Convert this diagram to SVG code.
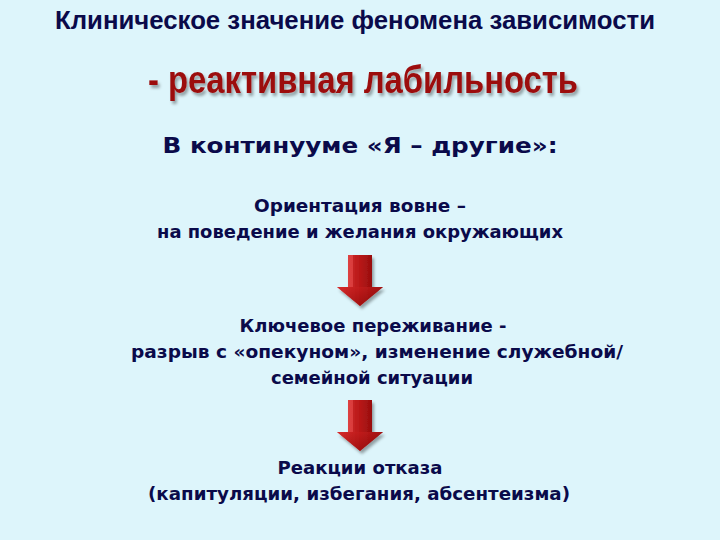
<svg xmlns="http://www.w3.org/2000/svg" width="720" height="540" viewBox="0 0 720 540">
<defs>
<style>
.t{font-family:"DejaVu Sans",Verdana,sans-serif;font-weight:bold;font-size:17px;fill:#0a0a4a;text-anchor:middle}
.hd{font-size:22px}
.h{font-family:"Liberation Sans",Arial,sans-serif;font-weight:bold;fill:#0a0a4a;text-anchor:middle}
.s{font-family:"Liberation Sans",Arial,sans-serif;font-weight:bold;fill:#9c1010;text-anchor:middle}
</style>
<linearGradient id="ag" x1="0" y1="0" x2="1" y2="0">
<stop offset="0" stop-color="#e23a3a"/>
<stop offset="0.5" stop-color="#b81818"/>
<stop offset="1" stop-color="#7a0505"/>
</linearGradient>
<linearGradient id="sg" x1="0" y1="0" x2="0" y2="1">
<stop offset="0" stop-color="#c81e1e"/>
<stop offset="1" stop-color="#8a0808"/>
</linearGradient>
<filter id="sh" x="-20%" y="-20%" width="150%" height="150%">
<feGaussianBlur in="SourceAlpha" stdDeviation="1.5"/>
<feOffset dx="2" dy="3" result="b"/>
<feFlood flood-color="#000" flood-opacity="0.35"/>
<feComposite in2="b" operator="in"/>
<feMerge><feMergeNode/><feMergeNode in="SourceGraphic"/></feMerge>
</filter>
<g id="arrow">
<path d="M348,0 H372 V32 H383 L360,51 L337,32 H348 Z" fill="url(#ag)" filter="url(#sh)"/>
<path d="M348,0 H353 V32 H348 Z" fill="#e85050" opacity="0.6"/>
<path d="M337,32 L360,51 L383,32 Z" fill="url(#sg)" opacity="0.5"/>
</g>
</defs>
<rect width="720" height="540" fill="#ddf5fb"/>
<g id="title"><text class="h" x="355" y="29" font-size="25" textLength="600" lengthAdjust="spacingAndGlyphs">Клиническое значение феномена зависимости</text></g>
<g id="subtitle"><text class="s" x="363" y="93" font-size="38" textLength="430" lengthAdjust="spacingAndGlyphs" filter="url(#sh)">- реактивная лабильность</text></g>
<g id="heading"><text class="t hd" x="360" y="153" textLength="395" lengthAdjust="spacingAndGlyphs">В континууме «Я – другие»:</text></g>
<g id="node1">
<text class="t" x="360" y="212" textLength="212" lengthAdjust="spacingAndGlyphs">Ориентация вовне –</text>
<text class="t" x="360" y="238" textLength="406" lengthAdjust="spacingAndGlyphs">на поведение и желания окружающих</text>
</g>
<g id="node2">
<text class="t" x="373" y="332" textLength="267" lengthAdjust="spacingAndGlyphs">Ключевое переживание -</text>
<text class="t" x="377" y="358" textLength="492" lengthAdjust="spacingAndGlyphs">разрыв с «опекуном», изменение служебной/</text>
<text class="t" x="372" y="384" textLength="202" lengthAdjust="spacingAndGlyphs">семейной ситуации</text>
</g>
<g id="node3">
<text class="t" x="360" y="474" textLength="165" lengthAdjust="spacingAndGlyphs">Реакции отказа</text>
<text class="t" x="359" y="500" textLength="422" lengthAdjust="spacingAndGlyphs">(капитуляции, избегания, абсентеизма)</text>
</g>
<g id="connectors">
<use href="#arrow" y="255"/>
<use href="#arrow" y="400"/>
</g>
</svg>
